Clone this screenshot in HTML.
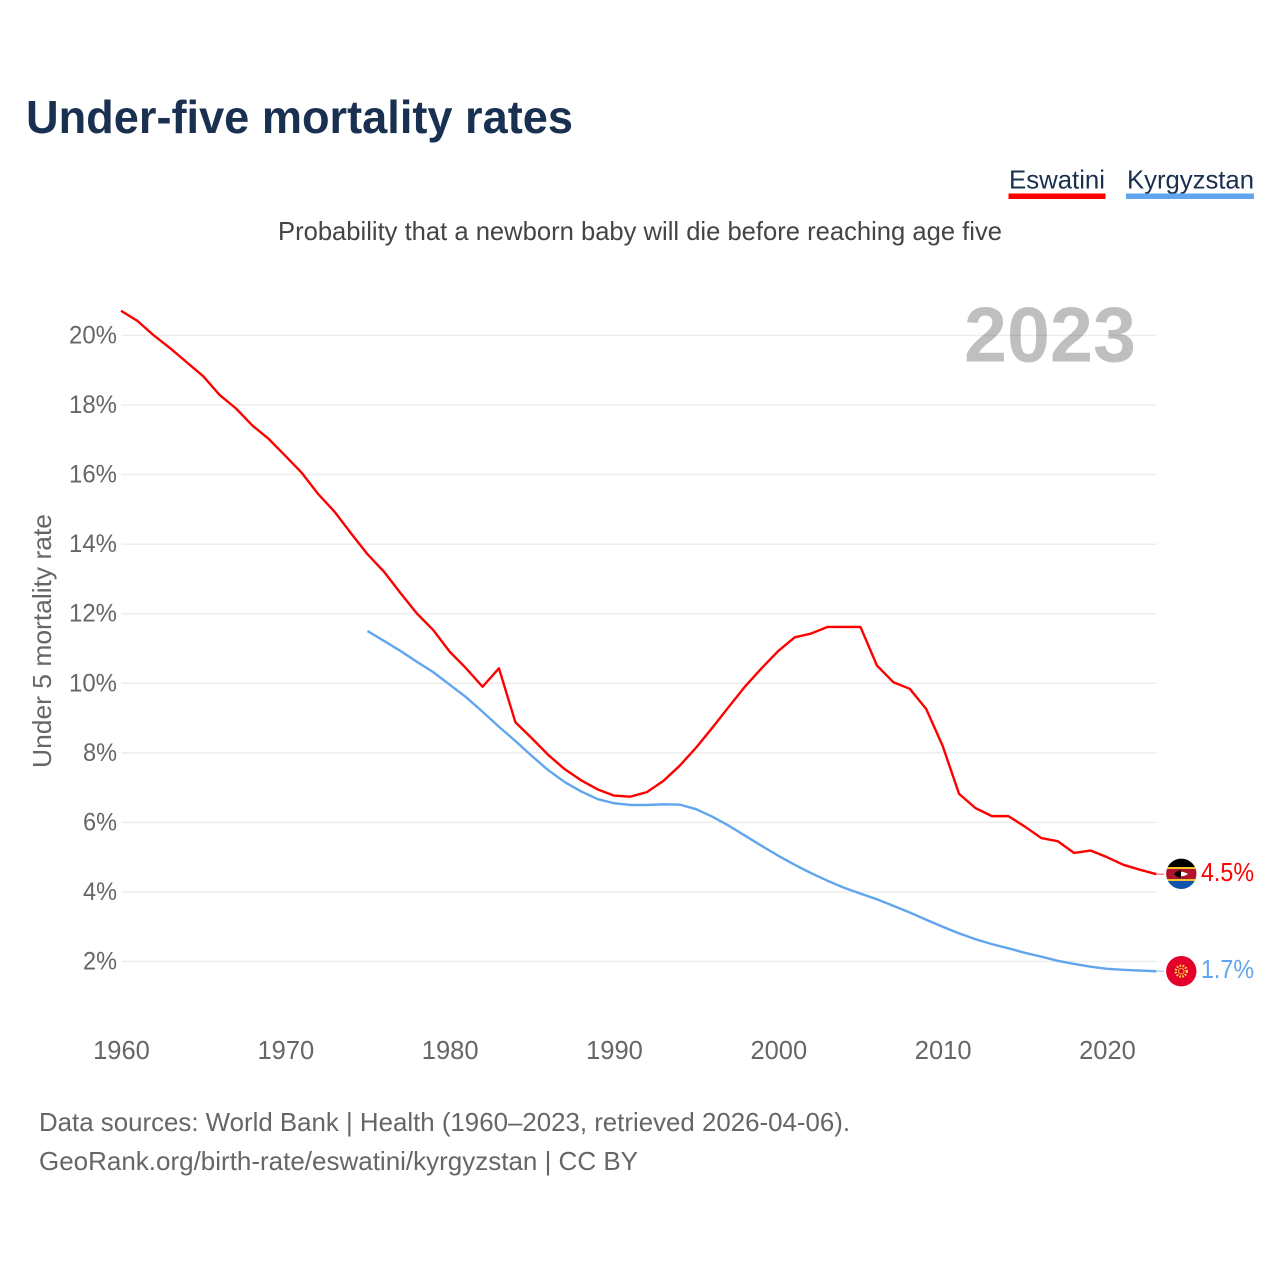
<!DOCTYPE html>
<html lang="en">
<head>
<meta charset="utf-8">
<title>Under-five mortality rates</title>
<style>
html,body{margin:0;padding:0;background:#fff;}
svg{display:block;font-family:"Liberation Sans",sans-serif;}
</style>
</head>
<body>
<svg id="chart" xmlns="http://www.w3.org/2000/svg" width="1280" height="1280" viewBox="0 0 1280 1280">
  <defs>
    <clipPath id="clip-sz"><circle cx="1181.3" cy="873.8" r="15.2"/></clipPath>
  </defs>
  <rect width="1280" height="1280" fill="#fff"/>
  <text x="26" y="133" font-size="46" font-weight="700" fill="#1a3050" textLength="547" lengthAdjust="spacingAndGlyphs">Under-five mortality rates</text>

  <g>
    <g>
      <text x="1009" y="188.5" font-size="26" fill="#1a3050" textLength="96" lengthAdjust="spacingAndGlyphs">Eswatini</text>
      <rect x="1008.5" y="193.5" width="97" height="5.5" fill="#ff0000"/>
    </g>
    <g>
      <text x="1127" y="188.5" font-size="26" fill="#1a3050" textLength="127" lengthAdjust="spacingAndGlyphs">Kyrgyzstan</text>
      <rect x="1126" y="193.5" width="128" height="5.5" fill="#60a5ee"/>
    </g>
  </g>

  <text x="278" y="240" font-size="26" fill="#444" textLength="724" lengthAdjust="spacingAndGlyphs">Probability that a newborn baby will die before reaching age five</text>
  <text transform="translate(51,768) rotate(-90)" font-size="26" fill="#666" textLength="254" lengthAdjust="spacingAndGlyphs">Under 5 mortality rate</text>

  <g id="grid"></g>
  <g id="yticks"></g>
  <g id="xticks"></g>

  <text x="964" y="361.5" font-size="78" font-weight="700" fill="#000" fill-opacity="0.25" textLength="172" lengthAdjust="spacingAndGlyphs">2023</text>

  <g id="series"></g>

  <g clip-path="url(#clip-sz)">
    <rect x="1165" y="858" width="33" height="10" fill="#000"/>
    <rect x="1165" y="867" width="33" height="2" fill="#f2c530"/>
    <rect x="1165" y="869" width="33" height="10" fill="#b1132b"/>
    <rect x="1165" y="879" width="33" height="2" fill="#f2c530"/>
    <rect x="1165" y="881" width="33" height="10" fill="#0f55b0"/>
    <path d="M1174 874 Q1181 869.5 1188 874 Q1181 878.5 1174 874Z" fill="#fff"/>
    <path d="M1174 874 Q1177 870.5 1181 870 L1181 878 Q1177 877.5 1174 874Z" fill="#000"/>
  </g>
  <g>
    <circle cx="1181.3" cy="971.2" r="15.2" fill="#e4002b"/>
    <circle cx="1181.3" cy="971.2" r="5.5" fill="none" stroke="#ffd83d" stroke-width="2.4" stroke-dasharray="1.6 1.4"/>
    <circle cx="1181.3" cy="971.2" r="2.8" fill="#e4002b" stroke="#ffd83d" stroke-width="0.8"/>
  </g>

  <text x="39" y="1131" font-size="26" fill="#666" textLength="811" lengthAdjust="spacingAndGlyphs">Data sources: World Bank | Health (1960–2023, retrieved 2026-04-06).</text>
  <text x="39" y="1170" font-size="26" fill="#666" textLength="599" lengthAdjust="spacingAndGlyphs">GeoRank.org/birth-rate/eswatini/kyrgyzstan | CC BY</text>
</svg>
<script>
const yTickValues = [2, 4, 6, 8, 10, 12, 14, 16, 18, 20];
const xTickValues = [1960, 1970, 1980, 1990, 2000, 2010, 2020];
const eswatiniStartYear = 1960;
const eswatiniValues = [
  20.71, 20.42, 20.0, 19.63, 19.23, 18.83, 18.29, 17.9, 17.41, 17.02,
  16.54, 16.05, 15.44, 14.93, 14.31, 13.71, 13.21, 12.6, 12.01, 11.53,
  10.91, 10.43, 9.9, 10.43, 8.88, 8.42, 7.94, 7.53, 7.21, 6.95,
  6.77, 6.74, 6.87, 7.19, 7.63, 8.15, 8.73, 9.33, 9.92, 10.44,
  10.93, 11.32, 11.43, 11.62, 11.62, 11.62, 10.51, 10.03, 9.84, 9.26,
  8.2, 6.82, 6.41, 6.18, 6.18, 5.88, 5.55, 5.46, 5.12, 5.19,
  5.0, 4.78, 4.64, 4.51
];
const kyrgyzstanStartYear = 1975;
const kyrgyzstanValues = [
  11.5, 11.22, 10.93, 10.62, 10.32,
  9.96, 9.6, 9.18, 8.75, 8.34, 7.91, 7.5, 7.16, 6.89, 6.67,
  6.55, 6.5, 6.5, 6.52, 6.51, 6.38, 6.16, 5.9, 5.61, 5.32,
  5.04, 4.78, 4.54, 4.32, 4.12, 3.95, 3.79, 3.6, 3.41, 3.2,
  3.0, 2.81, 2.64, 2.5, 2.38, 2.25, 2.14, 2.02, 1.93, 1.85,
  1.79, 1.76, 1.74, 1.72
];

const NS = 'http://www.w3.org/2000/svg';
const xScale = function (year) { return 121 + (year - 1960) * 16.433; };
const yScale = function (v) { return 961.5 - (v - 2) * 34.78; };
const plotRight = 1156.5;

function make(tag, parent, attrs, text) {
  const el = document.createElementNS(NS, tag);
  Object.keys(attrs).forEach(function (k) { el.setAttribute(k, attrs[k]); });
  if (text !== undefined) el.textContent = text;
  parent.appendChild(el);
  return el;
}

const gridGroup = document.getElementById('grid');
const yGroup = document.getElementById('yticks');
const xGroup = document.getElementById('xticks');
const seriesGroup = document.getElementById('series');

yTickValues.forEach(function (v) {
  const line = make('line', gridGroup, { x1: 121.5, x2: plotRight, y1: yScale(v), y2: yScale(v), stroke: '#ececec', 'stroke-width': 1.4 });
  
  
  const text = v + '%';
  const width = text.length === 3 ? 48 : 34;
  const label = make('text', yGroup, { x: 117 - width, y: yScale(v) + 8, 'font-size': 25, fill: '#666', textLength: width, lengthAdjust: 'spacingAndGlyphs' }, text);
  
  
});

xTickValues.forEach(function (yr) {
  const label = make('text', xGroup, { x: xScale(yr) + 0.5, y: 1059, 'text-anchor': 'middle', 'font-size': 25.5, fill: '#666' }, String(yr));
  
  
});

function drawSeries(values, startYear, color, key, labelY) {
  const pts = values.map(function (v, i) {
    return xScale(startYear + i).toFixed(2) + ',' + yScale(v).toFixed(2);
  }).join(' ');
  const line = make('polyline', seriesGroup, { points: pts, fill: 'none', stroke: color, 'stroke-width': 2.4, 'stroke-linejoin': 'round' });
  
  
  const last = values[values.length - 1];
  const lastX = xScale(startYear + values.length - 1);
  const conn = make('line', seriesGroup, { x1: lastX, x2: 1164, y1: yScale(last), y2: yScale(last), stroke: color, 'stroke-width': 1.2, 'stroke-opacity': 0.6 });
  
  
  const end = make('text', seriesGroup, { x: 1201, y: labelY, 'font-size': 25.5, fill: color, textLength: 53, lengthAdjust: 'spacingAndGlyphs' }, last.toFixed(1) + '%');
  
  
}

drawSeries(kyrgyzstanValues, kyrgyzstanStartYear, '#60a5ee', 'kyrgyzstan', 978);
drawSeries(eswatiniValues, eswatiniStartYear, '#ff0000', 'eswatini', 881);
</script>
</body>
</html>
